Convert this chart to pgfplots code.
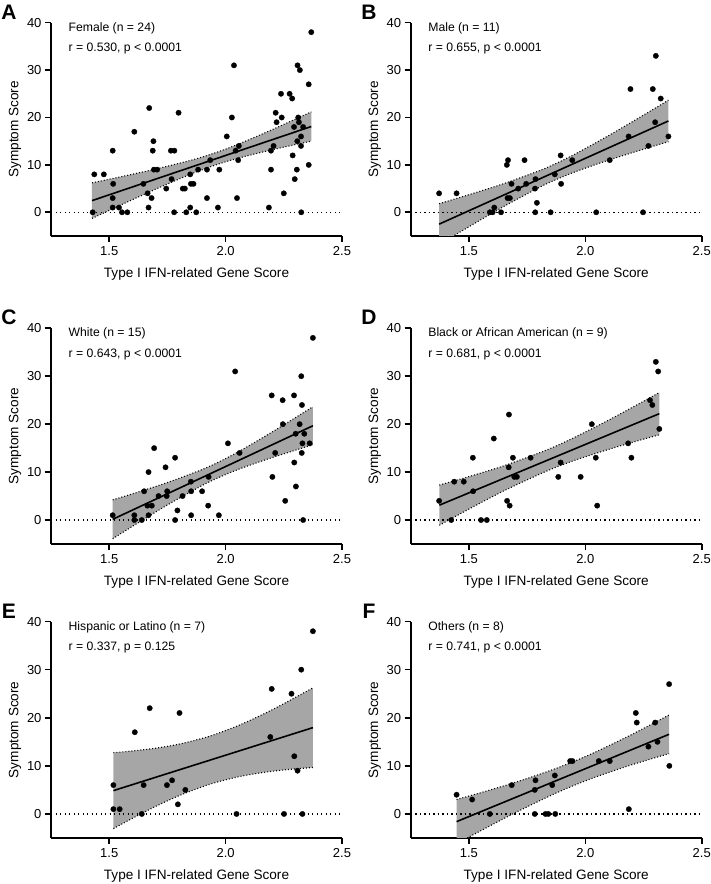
\documentclass[border=0pt]{standalone}
\usepackage{fontspec}
\setmainfont{Liberation Sans}
\usepackage{pgfplots}
\pgfplotsset{compat=1.18}
\usepgfplotslibrary{fillbetween}
\definecolor{bandgray}{RGB}{166,166,166}
\newcommand{\annfont}{\fontsize{12.2}{14}\selectfont}
\newcommand{\ann}[2]{\node[anchor=west, inner sep=0pt, font=\annfont, yshift=-5.5pt] at (0.06,1) {#1};\node[anchor=west, inner sep=0pt, font=\annfont, yshift=-26pt] at (0.06,1) {#2};}
\pgfplotsset{
 panel/.style={
  scale only axis, width=291pt,
  xmin=1.25, xmax=2.5, ymin=-5, ymax=40,
  axis lines=left,
  axis line style={-, line width=1.6pt, black},
  every outer x axis line/.append style={-},
  every outer y axis line/.append style={-},
  xtick={1.5,2,2.5}, xticklabels={1.5,2.0,2.5},
  ytick={0,10,20,30,40}, yticklabels={0,10,20,30,40},
  /pgf/number format/assume math mode=true,
  major tick length=6pt, tick align=outside,
  tick style={line width=1.6pt, black},
  tick label style={font=\fontsize{13}{15}\selectfont},
  xticklabel style={yshift=-1pt},
  xlabel={Type I IFN-related Gene Score},
  ylabel={Symptom Score},
  every axis x label/.style={at={(axis description cs:0.5,0)}, yshift=-38pt, anchor=center, font=\fontsize{13.6}{16}\selectfont},
  every axis y label/.style={at={(axis description cs:0,0.5)}, xshift=-36pt, anchor=center, rotate=90, font=\fontsize{13.6}{16}\selectfont},
  set layers,
 },
 pts/.style={only marks, mark=*, mark size=2.7pt, mark options={fill=black, draw=black, line width=0.3pt}},
 bnd/.style={black, line width=1.1pt, dash pattern=on 1pt off 2pt, smooth},
 reg/.style={black, line width=1.6pt},
 zero/.style={black, line width=1.3pt, dash pattern=on 1.3pt off 3.2pt},
}
\begin{document}
\begin{tikzpicture}

% ---------------- A ----------------
\begin{axis}[panel, at={(51pt,648pt)}, anchor=south west, height=213.3pt,
  extra description/.code={\ann{Female (n = 24)}{r = 0.530, p < 0.0001}}]
\addplot[name path=U, bnd] coordinates {(1.426,6.21) (1.55,7.50) (1.70,9.13) (1.85,10.96) (1.95,12.46) (2.05,14.28) (2.20,17.43) (2.368,21.19)};
\addplot[name path=L, bnd] coordinates {(1.426,-1.29) (1.55,1.54) (1.70,4.89) (1.85,8.04) (1.95,9.86) (2.05,11.36) (2.20,13.19) (2.368,15.01)};
\addplot[bandgray] fill between[of=U and L];
\addplot[zero] coordinates {(1.25,0) (2.5,0)};
\addplot[reg] coordinates {(1.426,2.46) (2.368,18.10)};
\addplot[pts] coordinates {(2.368,38) (2.036,31) (2.309,31) (2.319,30) (2.357,27) (2.238,25) (2.275,25) (2.286,24) (1.672,22) (1.798,21) (2.027,20) (2.215,21) (2.241,20) (2.219,19) (2.312,20) (2.315,19) (2.294,18) (2.333,18) (1.608,17) (2.005,16) (1.690,15) (2.057,14) (2.206,14) (2.324,16) (2.308,15) (2.324,14) (1.515,13) (1.687,13) (1.765,13) (1.780,13) (2.043,13) (2.195,13) (2.288,12) (1.934,11) (2.054,11) (1.436,8) (1.477,8) (1.517,6) (1.647,6) (1.692,9) (1.706,9) (1.665,4) (1.682,3) (1.745,5) (1.768,7) (1.816,5) (1.825,5) (1.848,8) (1.851,6) (1.862,6) (1.882,9) (1.920,9) (1.973,9) (1.920,3) (2.049,3) (2.195,9) (2.250,4) (2.297,7) (2.306,9) (2.357,10) (1.515,3) (1.429,0) (1.515,1) (1.542,1) (1.555,0) (1.578,0) (1.669,1) (1.779,0) (1.831,0) (1.848,1) (1.874,0) (1.967,1) (2.186,1) (2.325,0)};
\end{axis}

% ---------------- B ----------------
\begin{axis}[panel, at={(410.7pt,648pt)}, anchor=south west, height=213.3pt,
  extra description/.code={\ann{Male (n = 11)}{r = 0.655, p < 0.0001}}]
\addplot[name path=U, bnd] coordinates {(1.372,1.81) (1.50,3.71) (1.65,6.05) (1.80,8.73) (1.86,9.98) (1.95,12.12) (2.10,16.18) (2.25,20.50) (2.357,23.65)};
\addplot[name path=L, bnd] coordinates {(1.372,-6.81) (1.50,-3.05) (1.65,1.23) (1.80,5.19) (1.86,6.58) (1.95,8.42) (2.10,11.00) (2.25,13.30) (2.357,14.89)};
\addplot[bandgray] fill between[of=U and L];
\addplot[zero] coordinates {(1.25,0) (2.5,0)};
\addplot[reg] coordinates {(1.372,-2.5) (2.357,19.27)};
\addplot[pts] coordinates {(2.303,33) (2.194,26) (2.290,26) (2.324,24) (2.300,19) (2.186,16) (2.357,16) (2.271,14) (2.105,11) (1.944,11) (1.894,12) (1.668,11) (1.663,10) (1.739,11) (1.869,8) (1.896,6) (1.683,6) (1.712,5) (1.746,6) (1.786,7) (1.784,5) (1.666,3) (1.676,3) (1.372,4) (1.447,4) (1.792,2) (1.609,1) (1.590,0) (1.602,0) (1.638,0) (1.785,0) (1.851,0) (2.047,0) (2.248,0)};
\end{axis}

% ---------------- C ----------------
\begin{axis}[panel, at={(51pt,340pt)}, anchor=south west, height=215.7pt,
  extra description/.code={\ann{White (n = 15)}{r = 0.643, p < 0.0001}}]
\addplot[name path=U, bnd] coordinates {(1.515,4.20) (1.60,5.47) (1.75,7.82) (1.90,10.55) (1.95,11.62) (2.05,14.10) (2.20,18.37) (2.375,23.64)};
\addplot[name path=L, bnd] coordinates {(1.515,-3.90) (1.60,-1.31) (1.75,3.14) (1.90,7.23) (1.95,8.42) (2.05,10.48) (2.20,13.03) (2.375,15.70)};
\addplot[bandgray] fill between[of=U and L];
\addplot[zero] coordinates {(1.25,0) (2.5,0)};
\addplot[reg] coordinates {(1.515,0.15) (2.375,19.67)};
\addplot[pts] coordinates {(2.375,38) (2.041,31) (2.325,30) (2.198,26) (2.245,25) (2.294,26) (2.328,24) (2.246,20) (2.318,20) (2.301,18) (2.338,18) (2.330,16) (2.361,16) (2.327,14) (2.010,16) (2.060,14) (2.213,14) (2.295,12) (2.201,9) (2.302,7) (2.256,4) (1.693,15) (1.783,13) (1.742,11) (1.669,10) (1.927,9) (1.851,8) (1.650,6) (1.712,5) (1.749,6) (1.747,5) (1.815,5) (1.852,6) (1.899,6) (1.664,3) (1.683,3) (1.925,3) (1.793,2) (1.515,1) (1.608,1) (1.608,0) (1.640,0) (1.669,1) (1.783,0) (1.852,1) (1.971,1) (2.333,0)};
\end{axis}

% ---------------- D ----------------
\begin{axis}[panel, at={(410.7pt,340pt)}, anchor=south west, height=215.7pt,
  extra description/.code={\ann{Black or African American (n = 9)}{r = 0.681, p < 0.0001}}]
\addplot[name path=U, bnd] coordinates {(1.373,7.29) (1.50,9.06) (1.65,11.31) (1.83,14.53) (1.95,17.15) (2.10,20.84) (2.25,24.77) (2.318,26.60)};
\addplot[name path=L, bnd] coordinates {(1.373,-1.09) (1.50,2.28) (1.65,6.09) (1.83,10.13) (1.95,12.37) (2.10,14.74) (2.25,16.87) (2.318,17.78)};
\addplot[bandgray] fill between[of=U and L];
\addplot[zero] coordinates {(1.25,0) (2.5,0)};
\addplot[reg] coordinates {(1.373,3.10) (2.318,22.19)};
\addplot[pts] coordinates {(2.303,33) (2.313,31) (2.278,25) (2.288,24) (2.318,19) (2.028,20) (2.184,16) (2.198,13) (2.045,13) (1.672,22) (1.607,17) (1.517,13) (1.689,13) (1.765,13) (1.671,11) (1.894,12) (1.695,9) (1.706,9) (1.884,9) (1.980,9) (1.437,8) (1.478,8) (1.518,6) (1.372,4) (1.664,4) (1.675,3) (2.051,3) (1.424,0) (1.552,0) (1.577,0)};
\end{axis}

% ---------------- E ----------------
\begin{axis}[panel, at={(51pt,46pt)}, anchor=south west, height=216.4pt,
  extra description/.code={\ann{Hispanic or Latino (n = 7)}{r = 0.337, p = 0.125}}]
\addplot[name path=U, bnd] coordinates {(1.518,12.75) (1.60,13.10) (1.70,13.68) (1.80,14.52) (1.93,16.15) (2.05,18.29) (2.15,20.48) (2.25,22.93) (2.375,26.23)};
\addplot[name path=L, bnd] coordinates {(1.518,-3.05) (1.60,-0.90) (1.70,1.58) (1.80,3.80) (1.93,6.15) (2.05,7.67) (2.15,8.54) (2.25,9.15) (2.375,9.67)};
\addplot[bandgray] fill between[of=U and L];
\addplot[zero] coordinates {(1.25,0) (2.5,0)};
\addplot[reg] coordinates {(1.518,4.85) (2.375,17.95)};
\addplot[pts] coordinates {(2.375,38) (2.325,30) (2.198,26) (2.283,25) (2.192,16) (2.295,12) (2.309,9) (1.674,22) (1.802,21) (1.610,17) (1.518,6) (1.648,6) (1.748,6) (1.770,7) (1.827,5) (1.518,1) (1.545,1) (1.640,0) (1.795,2) (2.047,0) (2.251,0) (2.330,0)};
\end{axis}

% ---------------- F ----------------
\begin{axis}[panel, at={(410.7pt,46pt)}, anchor=south west, height=216.4pt,
  extra description/.code={\ann{Others (n = 8)}{r = 0.741, p < 0.0001}}]
\addplot[name path=U, bnd] coordinates {(1.447,3.00) (1.55,4.41) (1.70,6.58) (1.85,9.04) (1.95,10.91) (2.05,13.02) (2.20,16.53) (2.36,20.59)};
\addplot[name path=L, bnd] coordinates {(1.447,-6.20) (1.55,-3.51) (1.70,0.28) (1.85,3.80) (1.95,5.91) (2.05,7.78) (2.20,10.23) (2.36,12.55)};
\addplot[bandgray] fill between[of=U and L];
\addplot[zero] coordinates {(1.25,0) (2.5,0)};
\addplot[reg] coordinates {(1.447,-1.60) (2.36,16.57)};
\addplot[pts] coordinates {(2.360,27) (2.217,21) (2.221,19) (2.300,19) (2.271,14) (2.310,15) (2.361,10) (2.058,11) (2.105,11) (1.935,11) (1.945,11) (1.684,6) (1.786,7) (1.783,5) (1.869,8) (1.858,6) (1.447,4) (1.514,3) (1.590,0) (1.783,0) (1.829,0) (1.841,0) (1.871,0) (2.187,1)};
\end{axis}

% panel letters
\node[font=\bfseries\fontsize{21}{24}\selectfont, inner sep=0pt] at (9pt,871.5pt) {A};
\node[font=\bfseries\fontsize{21}{24}\selectfont, inner sep=0pt] at (369pt,871.5pt) {B};
\node[font=\bfseries\fontsize{21}{24}\selectfont, inner sep=0pt] at (9pt,567pt) {C};
\node[font=\bfseries\fontsize{21}{24}\selectfont, inner sep=0pt] at (369pt,567pt) {D};
\node[font=\bfseries\fontsize{21}{24}\selectfont, inner sep=0pt] at (9pt,273pt) {E};
\node[font=\bfseries\fontsize{21}{24}\selectfont, inner sep=0pt] at (369pt,273pt) {F};
\pgfresetboundingbox
\useasboundingbox (0,0) rectangle (711pt,884pt);
\end{tikzpicture}
\end{document}
